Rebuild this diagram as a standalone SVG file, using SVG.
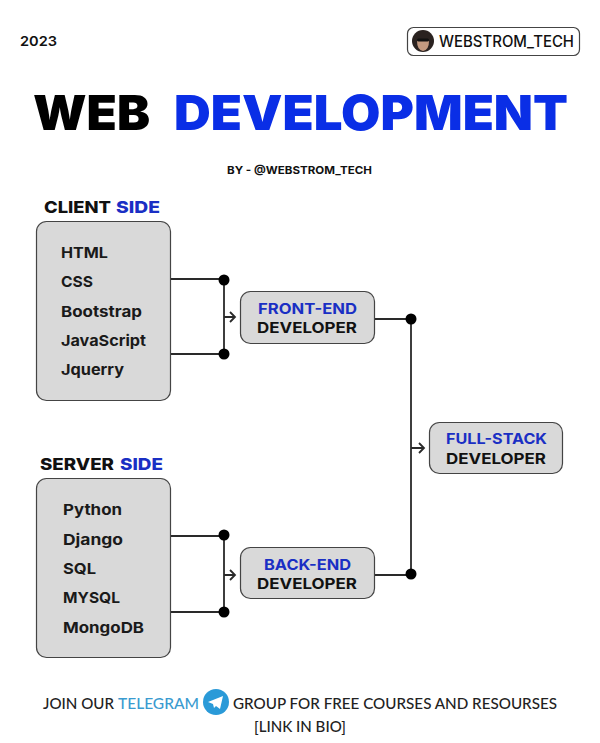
<svg xmlns="http://www.w3.org/2000/svg" width="600" height="743" viewBox="0 0 600 743">
<style>
text{font-family:Inter,"Liberation Sans",sans-serif;fill:#111}
.b{fill:#1a2fc4}
.box{fill:#d9d9d9;stroke:#444;stroke-width:1.200}
.h{font-size:16.500px;font-weight:800}
.i{font-size:15px;font-weight:700;fill:#1a1a1a}
.n{font-size:14.500px;font-weight:700}
.f{font-family:Lato,sans-serif;font-size:15.500px;fill:#222;font-weight:500}
.c path{stroke:#2a2a2a;stroke-width:1.800;fill:none}
.c circle{fill:#000}
</style>
<rect width="600" height="743" fill="#fff"/>
<text id="year" x="20" y="46" font-size="13.500" font-weight="600" textLength="37" lengthAdjust="spacingAndGlyphs">2023</text>
<g id="badge">
<rect x="407.500" y="27.500" width="172" height="28" rx="6" fill="#fff" stroke="#444" stroke-width="1.200"/>
<circle cx="423" cy="41" r="11" fill="#2a2220"/>
<path d="M417 41q6-4 12 0q0 9-6 10q-6-1-6-10z" fill="#c49a80"/>
<rect x="417" y="38.500" width="12" height="3" rx="1.500" fill="#111"/>
<text x="439" y="47" font-size="15.500" font-weight="500" textLength="135" lengthAdjust="spacingAndGlyphs">WEBSTROM_TECH</text>
</g>
<g id="title" font-size="48" font-weight="900">
<text x="33" y="130" textLength="117" lengthAdjust="spacingAndGlyphs" style="fill:#000">WEB</text>
<text x="174" y="130" textLength="394" lengthAdjust="spacingAndGlyphs" style="fill:#0a2ee6">DEVELOPMENT</text>
</g>
<text id="by" x="227" y="174" font-size="11" font-weight="700" textLength="145" lengthAdjust="spacingAndGlyphs">BY - @WEBSTROM_TECH</text>
<g id="client-side">
<text class="h" x="44" y="213" textLength="67" lengthAdjust="spacingAndGlyphs">CLIENT</text>
<text class="h b" x="116" y="213" textLength="44" lengthAdjust="spacingAndGlyphs">SIDE</text>
<rect class="box" x="36.500" y="221.500" width="134" height="179" rx="10"/>
<text class="i" x="61" y="258" textLength="47" lengthAdjust="spacingAndGlyphs">HTML</text>
<text class="i" x="61" y="287" textLength="32" lengthAdjust="spacingAndGlyphs">CSS</text>
<text class="i" x="61" y="317" textLength="81" lengthAdjust="spacingAndGlyphs">Bootstrap</text>
<text class="i" x="61" y="346" textLength="85" lengthAdjust="spacingAndGlyphs">JavaScript</text>
<text class="i" x="61" y="375" textLength="63" lengthAdjust="spacingAndGlyphs">Jquerry</text>
</g>
<g id="server-side">
<text class="h" x="40" y="470" textLength="74" lengthAdjust="spacingAndGlyphs">SERVER</text>
<text class="h b" x="120" y="470" textLength="43" lengthAdjust="spacingAndGlyphs">SIDE</text>
<rect class="box" x="36.500" y="478.500" width="134" height="179" rx="10"/>
<text class="i" x="63" y="515" textLength="59" lengthAdjust="spacingAndGlyphs">Python</text>
<text class="i" x="63" y="545" textLength="60" lengthAdjust="spacingAndGlyphs">Django</text>
<text class="i" x="63" y="574" textLength="33" lengthAdjust="spacingAndGlyphs">SQL</text>
<text class="i" x="63" y="603" textLength="57" lengthAdjust="spacingAndGlyphs">MYSQL</text>
<text class="i" x="63" y="633" textLength="81" lengthAdjust="spacingAndGlyphs">MongoDB</text>
</g>
<g id="connectors" class="c">
<path d="M171 279H224V354H171"/>
<path d="M224 317H235M230 312l5 5l-5 5"/>
<circle cx="224" cy="280" r="5.500"/><circle cx="224" cy="354" r="5.500"/>
<path d="M171 536H224V612H171"/>
<path d="M224 575H235M230 570l5 5l-5 5"/>
<circle cx="224" cy="535" r="5.500"/><circle cx="224" cy="612" r="5.500"/>
<path d="M375 319H411V575H375"/>
<path d="M411 448H424M419 443l5 5l-5 5"/>
<circle cx="411" cy="319" r="5.500"/><circle cx="411" cy="574" r="5.500"/>
</g>
<g id="front-end">
<rect class="box" x="240.500" y="291.500" width="134" height="52" rx="10"/>
<text class="n b" x="258" y="314" textLength="99" lengthAdjust="spacingAndGlyphs">FRONT-END</text>
<text class="n" x="257" y="333" textLength="100" lengthAdjust="spacingAndGlyphs">DEVELOPER</text>
</g>
<g id="back-end">
<rect class="box" x="240.500" y="547.500" width="134" height="51" rx="10"/>
<text class="n b" x="264" y="570" textLength="87" lengthAdjust="spacingAndGlyphs">BACK-END</text>
<text class="n" x="257" y="589" textLength="100" lengthAdjust="spacingAndGlyphs">DEVELOPER</text>
</g>
<g id="full-stack">
<rect class="box" x="429.500" y="422.500" width="133" height="51" rx="10"/>
<text class="n b" x="446" y="444" textLength="101" lengthAdjust="spacingAndGlyphs">FULL-STACK</text>
<text class="n" x="446" y="464" textLength="100" lengthAdjust="spacingAndGlyphs">DEVELOPER</text>
</g>
<g id="footer">
<text class="f" x="43" y="709" textLength="71" lengthAdjust="spacingAndGlyphs">JOIN OUR</text>
<text class="f" x="118" y="709" textLength="81" lengthAdjust="spacingAndGlyphs" style="fill:#3a9bd0">TELEGRAM</text>
<circle cx="216" cy="702" r="13" fill="#2a9ad8"/>
<path d="M208 702l15-6l-3 13l-4-3l-2 2l-1-4z" fill="#fff"/>
<text class="f" x="233" y="709" textLength="324" lengthAdjust="spacingAndGlyphs">GROUP FOR FREE COURSES AND RESOURSES</text>
<text class="f" x="254" y="732" textLength="92" lengthAdjust="spacingAndGlyphs">[LINK IN BIO]</text>
</g>
</svg>
